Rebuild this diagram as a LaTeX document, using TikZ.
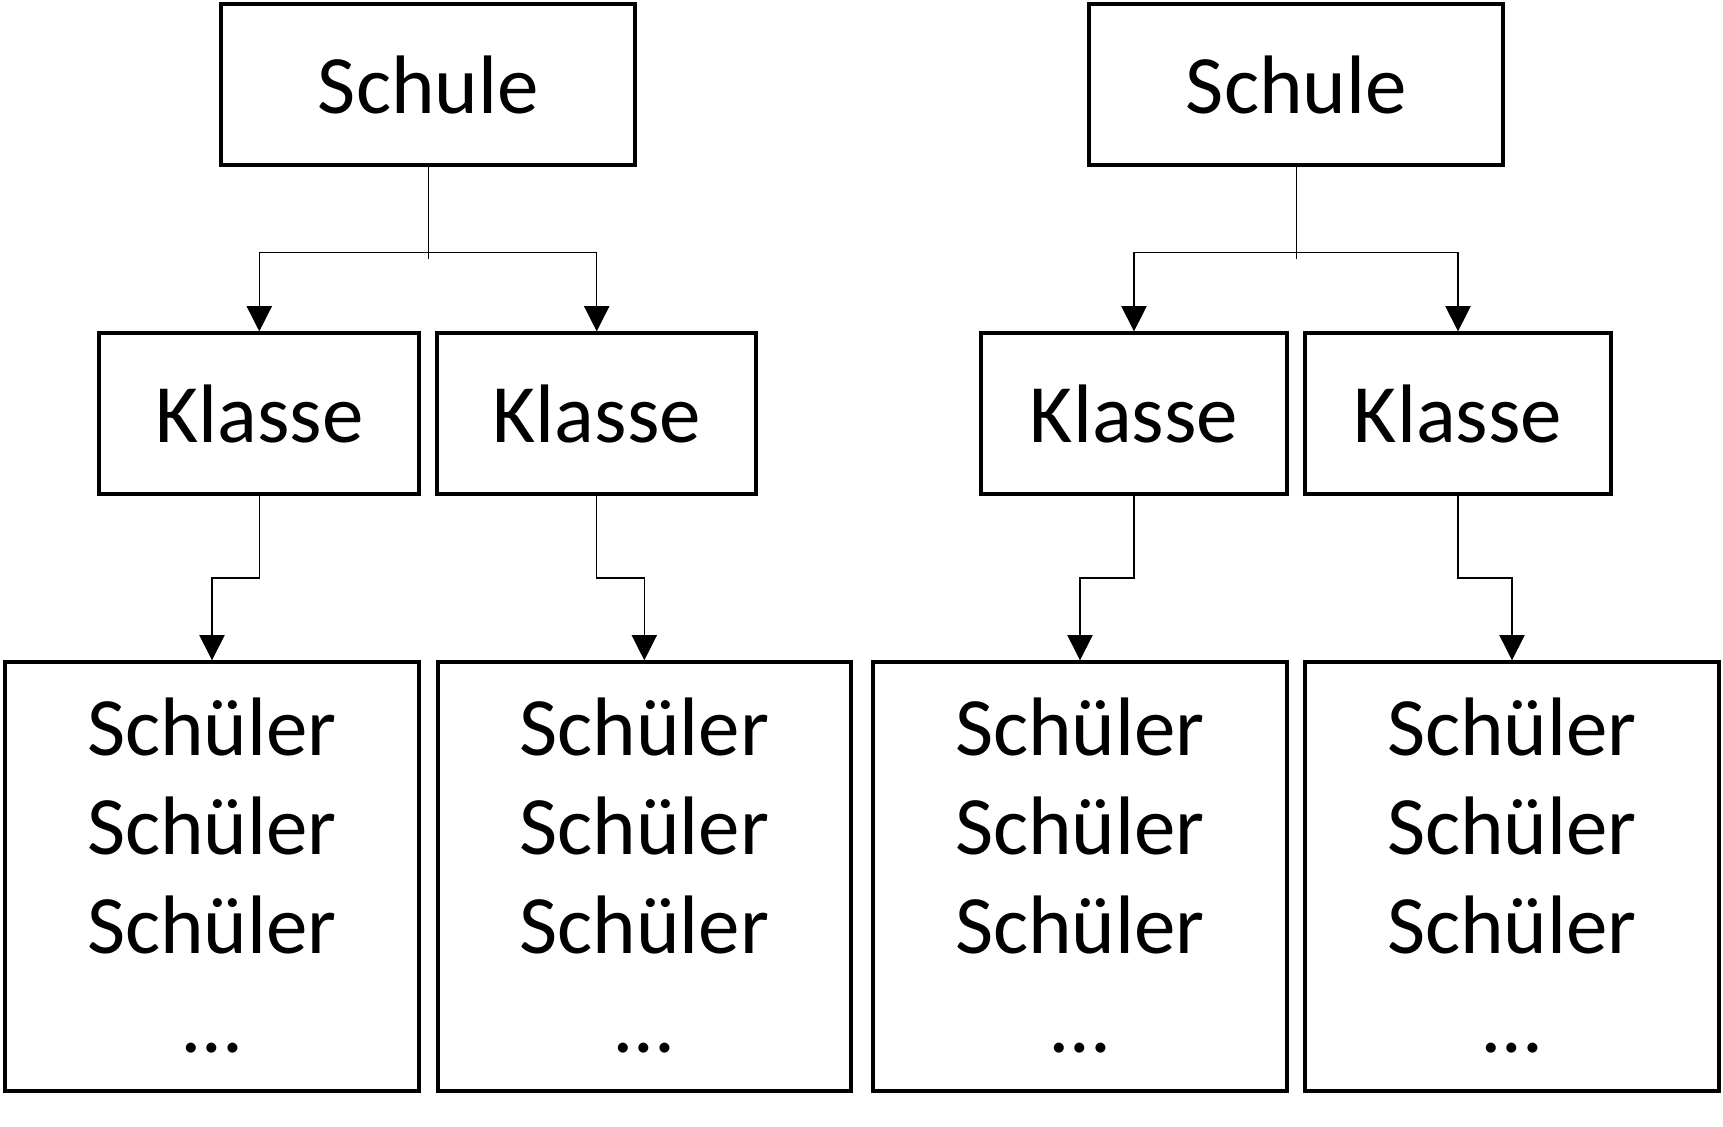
\documentclass[tikz,border=0pt]{standalone}
\usepackage{fontspec}
\setmainfont{Carlito}
\usetikzlibrary{arrows.meta,calc}
\begin{document}
\begin{tikzpicture}[x=0.5pt,y=-0.5pt,
  txtfont/.style={font=\fontsize{41.5pt}{49.5pt}\selectfont},
  box/.style={draw=black,line width=2pt,inner sep=0pt,txtfont},
  schule/.style={box,minimum width=207pt,minimum height=80.65pt},
  klasse/.style={box,minimum height=80.35pt},
  pupils/.style={box,minimum width=206.7pt,minimum height=214.5pt},
  line/.style={line width=0.7pt},
  arr/.style={line,-{Triangle[length=12.6pt,width=12.6pt]}},
  lbl/.style={txtfont,anchor=base,inner sep=0pt}]
\useasboundingbox (0,0) rectangle (1723,1127);
\fill[white] (0,0) rectangle (1723,1127);

% two schools
\node[schule] (sl) at (428.3,84.7) {Schule};
\node[schule] (sr) at (1296.3,84.7) {Schule};

% classes
\node[klasse,minimum width=160pt]    (k1) at (259.3,413.7) {Klasse};
\node[klasse,minimum width=159.35pt] (k2) at (596.7,413.7) {Klasse};
\node[klasse,minimum width=152.65pt] (k3) at (1134,413.7) {Klasse};
\node[klasse,minimum width=152.65pt] (k4) at (1458,413.7) {Klasse};

% pupil lists
\foreach \s/\x in {s1/212,s2/644.3,s3/1080,s4/1512}{
  \node[pupils] (\s) at (\x,876.8) {};
  \foreach \y [count=\i] in {755,854.2,953.4}
    \node[lbl] (\s-\i) at (\x,\y) {Schüler};
  \node[lbl] (\s-4) at (\x,1052.6) {…};
}

% school -> classes
\coordinate (jl) at (428.3,252.7);
\coordinate (jlend) at (428.3,259.3);
\coordinate (jr) at (1296.3,252.7);
\coordinate (jrend) at (1296.3,259.3);
\draw[line] (sl.south) -- (jlend);
\draw[line] (sr.south) -- (jrend);
\draw[arr] (jl) -| (k1.north);
\draw[arr] (jl) -| (k2.north);
\draw[arr] (jr) -| (k3.north);
\draw[arr] (jr) -| (k4.north);

% class -> pupils
\foreach \k/\s in {k1/s1,k2/s2,k3/s3,k4/s4}
  \draw[arr] (\k.south) |- ($(\k.south)!.5!(\s.north)$) -| (\s.north);
\end{tikzpicture}
\end{document}
